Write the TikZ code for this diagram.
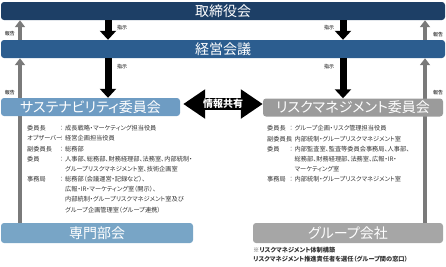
\documentclass[tikz,border=0pt]{standalone}
\usepackage{fontspec}
\setmainfont{Noto Sans CJK JP}[RawFeature=+palt]
\usetikzlibrary{arrows.meta,positioning,calc}
\definecolor{boardnavy}{HTML}{1D3F66}
\definecolor{execblue}{HTML}{2C5D8F}
\definecolor{sustblue}{HTML}{6E9CC3}
\definecolor{expertblue}{HTML}{78A5C6}
\definecolor{riskgray}{HTML}{9B9B9B}
\definecolor{groupgray}{HTML}{A6A6A6}
\definecolor{reportgray}{HTML}{7A7A7A}
\definecolor{listtext}{HTML}{333333}

\begin{document}
\begin{tikzpicture}[x=1pt,y=-1pt,
  titlebar/.style={rounded corners=3pt,text=white,inner sep=0pt,
    minimum height=18pt,font=\fontsize{14}{14}\selectfont},
  shiji/.style={line width=7pt,-{Triangle[width=16pt,length=9pt]}},
  houkoku/.style={draw=reportgray,line width=4pt,-{Triangle[width=10pt,length=7pt]}},
  kyoyu/.style={line width=12pt,{Triangle[width=28pt,length=22pt]}-{Triangle[width=28pt,length=22pt]}},
  tag/.style={inner sep=0pt,font=\fontsize{5}{5}\selectfont},
  listtxt/.style={anchor=west,inner sep=0pt,text=listtext,font=\fontsize{6.2}{6.2}\selectfont}]
\useasboundingbox (0,0) rectangle (446,266);
% arrow columns
\coordinate (cL) at (20,0);
\coordinate (cA) at (108,0);
\coordinate (cB) at (343,0);
\coordinate (cR) at (425,0);
% bars and boxes
\node[titlebar,fill=boardnavy,minimum width=444pt] (board) at (223,11) {取締役会};
\node[titlebar,fill=execblue,minimum width=444pt] (exec) at (223,49) {経営会議};
\node[titlebar,fill=expertblue,minimum width=192pt,minimum height=20pt] (expert) at (97,233) {専門部会};
\node[titlebar,fill=groupgray,minimum width=190pt,minimum height=20pt] (group) at (348,233) {グループ会社};
% report arrows (behind the committees)
\draw[houkoku] (exec.north -| cL) -- (board.south -| cL);
\draw[houkoku] (expert.north -| cL) -- (exec.south -| cL);
\draw[houkoku] (exec.north -| cR) -- (board.south -| cR);
\draw[houkoku] (group.north -| cR) -- (exec.south -| cR);
\node[titlebar,fill=sustblue,minimum width=179pt] (sust) at (90.5,107) {サステナビリティ委員会};
\node[titlebar,fill=riskgray,minimum width=180pt] (risk) at (353,107.5) {リスクマネジメント委員会};
% instruction arrows
\draw[shiji] (board.south -| cA) -- (exec.north -| cA);
\draw[shiji] (exec.south -| cA) -- (sust.north -| cA);
\draw[shiji] (board.south -| cB) -- (exec.north -| cB);
\draw[shiji] (exec.south -| cB) -- (risk.north -| cB);
\node[tag] (sA1) at (122,28) {指示};
\node[tag] (sA2) at (122,67) {指示};
\node[tag] (sB1) at (329,28) {指示};
\node[tag] (sB2) at (329,67) {指示};
\node[tag] (hL1) at (10,34) {報告};
\node[tag] (hL2) at (10,93) {報告};
\node[tag] (hR1) at (438,35) {報告};
\node[tag] (hR2) at (438,93) {報告};
% information sharing
\draw[kyoyu] ([shift={(3pt,3pt)}]sust.east) -- ([shift={(0pt,3pt)}]sust.east -| risk.west)
  node[midway,text=white,font=\fontsize{10}{10}\bfseries] (share) {情報共有};
% sustainability members
\foreach \lab/\y in {委員長/128,オブザーバー/138,副委員長/149,委員/159,事務局/179} {
  \node[listtxt] (sl-\y) at (27,\y) {\lab};
  \node[listtxt] (sc-\y) at (60,\y) {：};
}
\foreach \val/\y in {成長戦略・マーケティング担当役員/128,経営企画担当役員/138,総務部/149,
    人事部、総務部、財務経理部、法務室、内部統制・/159,
    グループリスクマネジメント室、技術企画室/169,
    総務部（会議運営・記録など）、/179,
    広報・IR・マーケティング室（開示）、/189,
    内部統制・グループリスクマネジメント室及び/199,
    グループ企画管理室（グループ連携）/210} {
  \node[listtxt] (sv-\y) at (65,\y) {\val};
}
% risk members
\foreach \lab/\y in {委員長/128,副委員長/139,委員/149,事務局/179} {
  \node[listtxt] (rl-\y) at (267,\y) {\lab};
  \node[listtxt] (rc-\y) at (289.5,\y) {：};
}
\foreach \val/\y in {グループ企画・リスク管理担当役員/128,内部統制・グループリスクマネジメント室/139,
    内部監査室、監査等委員会事務局、人事部、/149,
    総務部、財務経理部、法務室、広報・IR・/159,
    マーケティング室/169,
    内部統制・グループリスクマネジメント室/179} {
  \node[listtxt] (rv-\y) at (294.5,\y) {\val};
}
% note
\node[listtxt,font=\fontsize{6.2}{6.2}\bfseries] (note1) at (253,250) {※リスクマネジメント体制構築};
\node[listtxt,font=\fontsize{6.2}{6.2}\bfseries] (note2) at (253,259) {リスクマネジメント推進責任者を選任（グループ間の窓口）};
\end{tikzpicture}
\end{document}
